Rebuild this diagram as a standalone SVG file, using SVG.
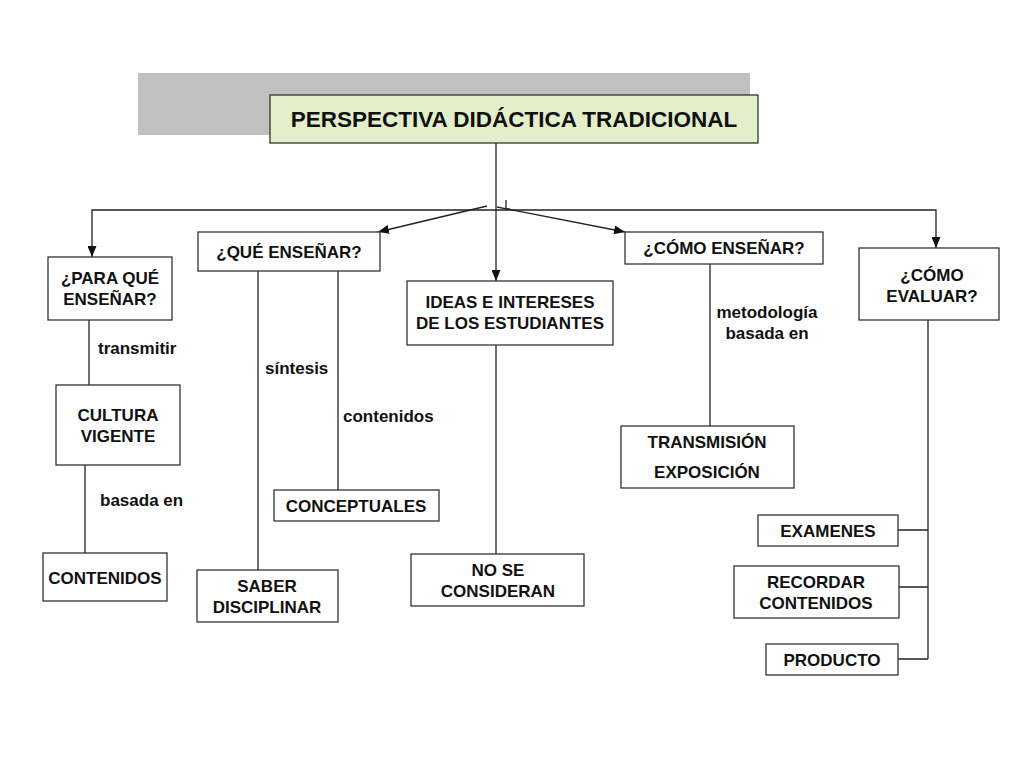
<svg xmlns="http://www.w3.org/2000/svg" width="1024" height="768" viewBox="0 0 1024 768">
<defs>
<marker id="arr" markerWidth="11" markerHeight="9" refX="11" refY="4.5" orient="auto" markerUnits="userSpaceOnUse">
<path d="M0,0 L11,4.5 L0,9 Z" fill="#111"/>
</marker>
</defs>
<style>
.box{fill:#fff;stroke:#333;stroke-width:1.3}
.t{font-family:"Liberation Sans",Arial,sans-serif;font-weight:bold;font-size:17px;fill:#111;text-anchor:middle}
.l{font-family:"Liberation Sans",Arial,sans-serif;font-weight:bold;font-size:17px;fill:#111}
.c{fill:none;stroke:#222;stroke-width:1.3}
</style>
<rect width="1024" height="768" fill="#fff"/>
<rect x="138" y="73" width="612" height="62" fill="#c0c0c0"/>
<g id="connectors">
<line class="c" x1="496" y1="143" x2="496" y2="281" marker-end="url(#arr)"/>
<polyline class="c" points="496,210 92,210 92,257" marker-end="url(#arr)"/>
<polyline class="c" points="496,210 936,210 936,248" marker-end="url(#arr)"/>
<line class="c" x1="487" y1="206" x2="378" y2="232" marker-end="url(#arr)"/>
<line class="c" x1="497" y1="207" x2="625" y2="232" marker-end="url(#arr)"/>
<polyline class="c" points="506,200 506,209 510,209"/>
<line class="c" x1="89" y1="320" x2="89" y2="385"/>
<line class="c" x1="85" y1="465" x2="85" y2="553"/>
<line class="c" x1="258" y1="271" x2="258" y2="570"/>
<line class="c" x1="338" y1="271" x2="338" y2="490"/>
<line class="c" x1="496" y1="345" x2="496" y2="554"/>
<line class="c" x1="710" y1="264" x2="710" y2="426"/>
<line class="c" x1="928" y1="320" x2="928" y2="659"/>
<line class="c" x1="895" y1="530" x2="928" y2="530"/>
<line class="c" x1="895" y1="587" x2="928" y2="587"/>
<line class="c" x1="895" y1="659" x2="928" y2="659"/>
</g>
<g id="labels">
<text class="l" x="98" y="354">transmitir</text>
<text class="l" x="100" y="506">basada en</text>
<text class="l" x="265" y="374">síntesis</text>
<text class="l" x="343" y="422">contenidos</text>
<text class="t" x="767" y="318">metodología</text>
<text class="t" x="767" y="339">basada en</text>
</g>
<g id="title">
<rect x="270" y="95" width="488" height="48" fill="#e3efcb" stroke="#333" stroke-width="1.3"/>
<text class="t" x="514" y="127" style="font-size:22.5px">PERSPECTIVA DIDÁCTICA TRADICIONAL</text>
</g>
<g id="para-que">
<rect class="box" x="48" y="257" width="124" height="63"/>
<text class="t" x="110" y="284">¿PARA QUÉ</text>
<text class="t" x="110" y="305">ENSEÑAR?</text>
</g>
<g id="cultura">
<rect class="box" x="56" y="385" width="124" height="80"/>
<text class="t" x="118" y="421">CULTURA</text>
<text class="t" x="118" y="442">VIGENTE</text>
</g>
<g id="contenidos">
<rect class="box" x="43" y="553" width="124" height="48"/>
<text class="t" x="105" y="584">CONTENIDOS</text>
</g>
<g id="que-ensenar">
<rect class="box" x="198" y="232" width="182" height="39"/>
<text class="t" x="289" y="258">¿QUÉ ENSEÑAR?</text>
</g>
<g id="conceptuales">
<rect class="box" x="274" y="490" width="165" height="31"/>
<text class="t" x="356" y="512">CONCEPTUALES</text>
</g>
<g id="saber">
<rect class="box" x="197" y="570" width="141" height="52"/>
<text class="t" x="267" y="592">SABER</text>
<text class="t" x="267" y="613">DISCIPLINAR</text>
</g>
<g id="ideas">
<rect class="box" x="407" y="281" width="206" height="64"/>
<text class="t" x="510" y="308">IDEAS E INTERESES</text>
<text class="t" x="510" y="329">DE LOS ESTUDIANTES</text>
</g>
<g id="no-se">
<rect class="box" x="411" y="554" width="173" height="52"/>
<text class="t" x="498" y="576">NO SE</text>
<text class="t" x="498" y="597">CONSIDERAN</text>
</g>
<g id="como-ensenar">
<rect class="box" x="625" y="232" width="198" height="32"/>
<text class="t" x="724" y="254">¿CÓMO ENSEÑAR?</text>
</g>
<g id="transmision">
<rect class="box" x="621" y="426" width="173" height="62"/>
<text class="t" x="707" y="448">TRANSMISIÓN</text>
<text class="t" x="707" y="478">EXPOSICIÓN</text>
</g>
<g id="como-evaluar">
<rect class="box" x="859" y="248" width="140" height="72"/>
<text class="t" x="932" y="281">¿CÓMO</text>
<text class="t" x="932" y="302">EVALUAR?</text>
</g>
<g id="examenes">
<rect class="box" x="758" y="515" width="140" height="31"/>
<text class="t" x="828" y="537">EXAMENES</text>
</g>
<g id="recordar">
<rect class="box" x="734" y="566" width="165" height="52"/>
<text class="t" x="816" y="588">RECORDAR</text>
<text class="t" x="816" y="609">CONTENIDOS</text>
</g>
<g id="producto">
<rect class="box" x="766" y="644" width="132" height="31"/>
<text class="t" x="832" y="666">PRODUCTO</text>
</g>
</svg>
